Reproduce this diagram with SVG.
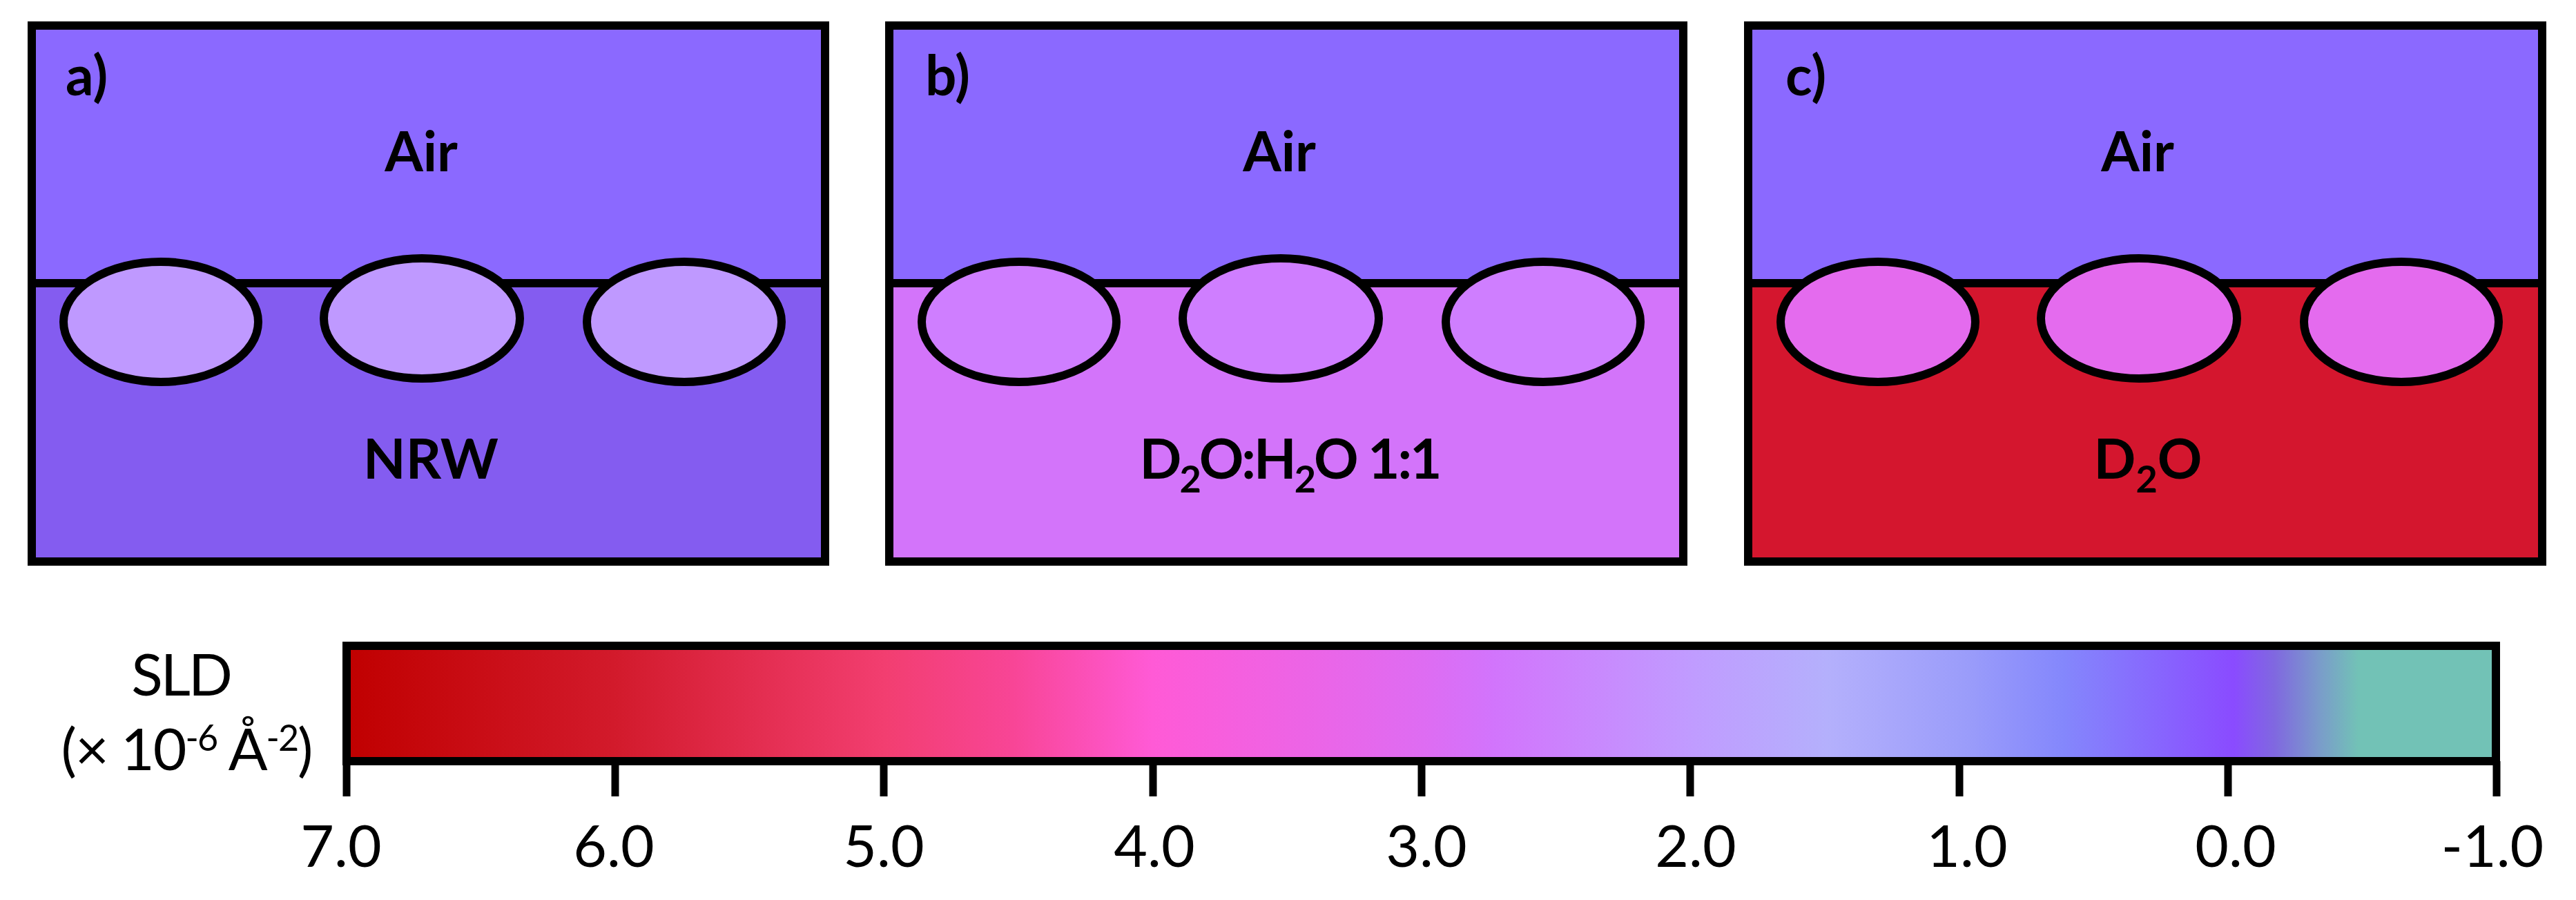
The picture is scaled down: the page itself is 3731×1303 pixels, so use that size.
<svg xmlns="http://www.w3.org/2000/svg" width="3731" height="1303" viewBox="0 0 3731 1303">
<style>
.frame{stroke:#000;stroke-width:12;}
.iface{stroke:#000;stroke-width:12;}
.air{fill:#8B69FF;}
.np{stroke:#000;stroke-width:12;}
.lbl{font-family:Lato,"Liberation Sans",sans-serif;font-weight:bold;font-size:80px;fill:#000;}
.ax{font-family:Lato,"Liberation Sans",sans-serif;font-size:84px;fill:#000;}
.tick{stroke:#000;stroke-width:11;}
</style>
<defs>
<linearGradient id="sld" x1="0" y1="0" x2="1" y2="0">
<stop offset="0" stop-color="#C00000"/>
<stop offset="0.124" stop-color="#D21A2B"/>
<stop offset="0.25" stop-color="#F23E70"/>
<stop offset="0.31" stop-color="#F84596"/>
<stop offset="0.375" stop-color="#FF5AD6"/>
<stop offset="0.501" stop-color="#DE6CF2"/>
<stop offset="0.533" stop-color="#D274FC"/>
<stop offset="0.627" stop-color="#C09CFF"/>
<stop offset="0.689" stop-color="#B4B0FC"/>
<stop offset="0.755" stop-color="#9A9CFA"/>
<stop offset="0.799" stop-color="#8487FC"/>
<stop offset="0.878" stop-color="#8A4BFF"/>
<stop offset="0.897" stop-color="#8068E0"/>
<stop offset="0.918" stop-color="#7A9CCA"/>
<stop offset="0.936" stop-color="#72C2B6"/>
<stop offset="1" stop-color="#72C2B6"/>
</linearGradient>
</defs>

<g id="panel-a">
<rect class="air" x="46" y="37" width="1149" height="373"/>
<rect x="46" y="410" width="1149" height="403" fill="#845CF0"/>
<line class="iface" x1="46" y1="410" x2="1195" y2="410"/>
<ellipse class="np" cx="233" cy="466" rx="141" ry="87" fill="#BF99FF"/>
<ellipse class="np" cx="611" cy="461" rx="142" ry="87" fill="#BF99FF"/>
<ellipse class="np" cx="991" cy="466" rx="141" ry="87" fill="#BF99FF"/>
<rect class="frame" x="46" y="37" width="1149" height="776" fill="none"/>
<text class="lbl" x="95" y="138">a)</text>
<text class="lbl" x="610" y="248" text-anchor="middle">Air</text>
<text class="lbl" x="624" y="693" text-anchor="middle">NRW</text>
</g>

<g id="panel-b">
<rect class="air" x="1288" y="37" width="1150" height="373"/>
<rect x="1288" y="410" width="1150" height="403" fill="#D374FA"/>
<line class="iface" x1="1288" y1="410" x2="2438" y2="410"/>
<ellipse class="np" cx="1476" cy="466" rx="141" ry="87" fill="#CF7EFF"/>
<ellipse class="np" cx="1855" cy="461" rx="142" ry="87" fill="#CF7EFF"/>
<ellipse class="np" cx="2235" cy="466" rx="141" ry="87" fill="#CF7EFF"/>
<rect class="frame" x="1288" y="37" width="1150" height="776" fill="none"/>
<text class="lbl" x="1340" y="138">b)</text>
<text class="lbl" x="1853" y="248" text-anchor="middle">Air</text>
<text class="lbl" x="1868" y="693" text-anchor="middle" letter-spacing="-3">D<tspan font-size="54" dy="20">2</tspan><tspan dy="-20">O:H</tspan><tspan font-size="54" dy="20">2</tspan><tspan dy="-20">O 1:1</tspan></text>
</g>

<g id="panel-c">
<rect class="air" x="2532" y="37" width="1150" height="373"/>
<rect x="2532" y="410" width="1150" height="403" fill="#D4162E"/>
<line class="iface" x1="2532" y1="410" x2="3682" y2="410"/>
<ellipse class="np" cx="2720" cy="466" rx="141" ry="87" fill="#E46BEE"/>
<ellipse class="np" cx="3098" cy="461" rx="142" ry="87" fill="#E46BEE"/>
<ellipse class="np" cx="3478" cy="466" rx="141" ry="87" fill="#E46BEE"/>
<rect class="frame" x="2532" y="37" width="1150" height="776" fill="none"/>
<text class="lbl" x="2586" y="138">c)</text>
<text class="lbl" x="3096" y="248" text-anchor="middle">Air</text>
<text class="lbl" x="3111" y="693" text-anchor="middle">D<tspan font-size="54" dy="20">2</tspan><tspan dy="-20">O</tspan></text>
</g>

<g id="colorbar">
<rect class="frame" x="502" y="935" width="3113" height="167" fill="url(#sld)"/>
<line class="tick" x1="502" y1="1102" x2="502" y2="1153"/>
<line class="tick" x1="891" y1="1102" x2="891" y2="1153"/>
<line class="tick" x1="1280" y1="1102" x2="1280" y2="1153"/>
<line class="tick" x1="1670" y1="1102" x2="1670" y2="1153"/>
<line class="tick" x1="2059" y1="1102" x2="2059" y2="1153"/>
<line class="tick" x1="2448" y1="1102" x2="2448" y2="1153"/>
<line class="tick" x1="2838" y1="1102" x2="2838" y2="1153"/>
<line class="tick" x1="3227" y1="1102" x2="3227" y2="1153"/>
<line class="tick" x1="3616" y1="1102" x2="3616" y2="1153"/>
<text class="ax" x="494" y="1255" text-anchor="middle">7.0</text>
<text class="ax" x="889" y="1255" text-anchor="middle">6.0</text>
<text class="ax" x="1280" y="1255" text-anchor="middle">5.0</text>
<text class="ax" x="1672" y="1255" text-anchor="middle">4.0</text>
<text class="ax" x="2066" y="1255" text-anchor="middle">3.0</text>
<text class="ax" x="2456" y="1255" text-anchor="middle">2.0</text>
<text class="ax" x="2849" y="1255" text-anchor="middle">1.0</text>
<text class="ax" x="3238" y="1255" text-anchor="middle">0.0</text>
<text class="ax" x="3610" y="1255" text-anchor="middle">-1.0</text>
<text class="ax" x="262" y="1007" text-anchor="middle" letter-spacing="-3">SLD</text>
<text class="ax" x="270" y="1115" text-anchor="middle" letter-spacing="-2">(× 10<tspan font-size="52" dy="-28">-6</tspan><tspan dy="28"> Å</tspan><tspan font-size="52" dy="-28">-2</tspan><tspan dy="28">)</tspan></text>
</g>
</svg>
